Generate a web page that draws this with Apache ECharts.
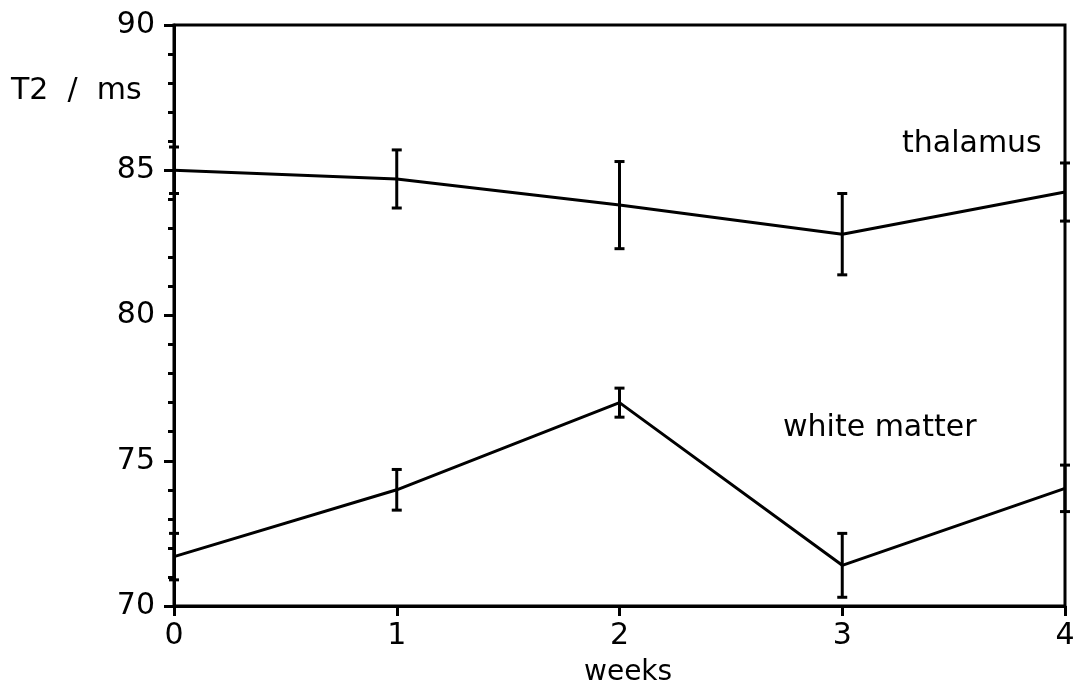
<!DOCTYPE html>
<html>
<head>
<meta charset="utf-8">
<title>T2 relaxation over time</title>
<script src="https://cdn.jsdelivr.net/npm/echarts@6/dist/echarts.min.js"></script>
<style>
  html, body { margin: 0; padding: 0; background: #ffffff; }
  #chart { width: 1082px; height: 691px; }
</style>
</head>
<body>
<div id="chart"></div>
<script>
// Measurement time points (weeks) and mean T2 values with error half-widths (ms)
const weeks = [0, 1, 2, 3, 4];
const thalamusMean = [85.0, 84.7, 83.8, 82.8, 84.25];
const thalamusErr = [0.8, 1.0, 1.5, 1.4, 1.0];
const whiteMatterMean = [71.7, 74.0, 77.0, 71.4, 74.05];
const whiteMatterErr = [0.8, 0.7, 0.5, 1.1, 0.8];
const yTickLabels = [70, 75, 80, 85, 90];
const xTickLabels = [0, 1, 2, 3, 4];

const INK = '#000000';
const FONT = 'DejaVu Sans';
const STROKE = 3;

function linePoints(means) {
  return weeks.map((w, i) => [w, means[i]]);
}
function errPoints(means, errs) {
  return weeks.map((w, i) => [w, means[i] - errs[i], means[i] + errs[i]]);
}

// Vertical error bar with short horizontal caps
function renderErrorBar(params, api) {
  const x = api.value(0);
  const lo = api.coord([x, api.value(1)]);
  const hi = api.coord([x, api.value(2)]);
  const half = 5;
  const style = { stroke: INK, lineWidth: STROKE, fill: null };
  return {
    type: 'group',
    children: [
      { type: 'line', shape: { x1: hi[0], y1: hi[1], x2: lo[0], y2: lo[1] }, style },
      { type: 'line', shape: { x1: hi[0] - half, y1: hi[1], x2: hi[0] + half, y2: hi[1] }, style },
      { type: 'line', shape: { x1: lo[0] - half, y1: lo[1], x2: lo[0] + half, y2: lo[1] }, style }
    ]
  };
}

const chart = echarts.init(document.getElementById('chart'), null, { renderer: 'canvas' });

const lineSeries = (name, means) => ({
  name,
  type: 'line',
  data: linePoints(means),
  symbol: 'none',
  lineStyle: { color: INK, width: STROKE },
  z: 3,
  animation: false
});

const errSeries = (name, means, errs) => ({
  name: name + ' error',
  type: 'custom',
  renderItem: renderErrorBar,
  data: errPoints(means, errs),
  encode: { x: 0, y: [1, 2] },
  z: 4,
  animation: false
});

chart.setOption({
  backgroundColor: '#ffffff',
  animation: false,
  grid: {
    left: 174, right: 17, top: 25, bottom: 85,
    show: true, borderColor: INK, borderWidth: STROKE, backgroundColor: 'transparent'
  },
  xAxis: {
    type: 'value',
    min: 0, max: 4, interval: 1,
    axisLine: { show: true, onZero: false, lineStyle: { color: INK, width: STROKE } },
    axisTick: { show: true, inside: false, length: 10, lineStyle: { color: INK, width: STROKE } },
    splitLine: { show: false },
    axisLabel: {
      color: INK, fontFamily: FONT, fontSize: 30, margin: 15,
      formatter: v => (xTickLabels.includes(v) ? String(v) : '')
    }
  },
  yAxis: {
    type: 'value',
    min: 70, max: 90, interval: 5,
    axisLine: { show: true, onZero: false, lineStyle: { color: INK, width: STROKE } },
    axisTick: { show: true, inside: false, length: 10, lineStyle: { color: INK, width: STROKE } },
    minorTick: { show: true, splitNumber: 5, length: 6, lineStyle: { color: INK, width: STROKE } },
    splitLine: { show: false },
    minorSplitLine: { show: false },
    axisLabel: {
      color: INK, fontFamily: FONT, fontSize: 30, margin: 19,
      formatter: v => (yTickLabels.includes(v) ? String(v) : '')
    }
  },
  series: [
    lineSeries('thalamus', thalamusMean),
    errSeries('thalamus', thalamusMean, thalamusErr),
    lineSeries('white matter', whiteMatterMean),
    errSeries('white matter', whiteMatterMean, whiteMatterErr)
  ],
  graphic: [
    { type: 'text', left: 11, top: 76,
      style: { text: 'T2  /  ms', font: '30px "DejaVu Sans"', fill: INK } },
    { type: 'text', left: 902, top: 129,
      style: { text: 'thalamus', font: '30px "DejaVu Sans"', fill: INK } },
    { type: 'text', left: 783, top: 413,
      style: { text: 'white matter', font: '30px "DejaVu Sans"', fill: INK } },
    { type: 'text', left: 584, top: 659,
      style: { text: 'weeks', font: '28px "DejaVu Sans"', fill: INK } }
  ]
});
</script>
</body>
</html>
